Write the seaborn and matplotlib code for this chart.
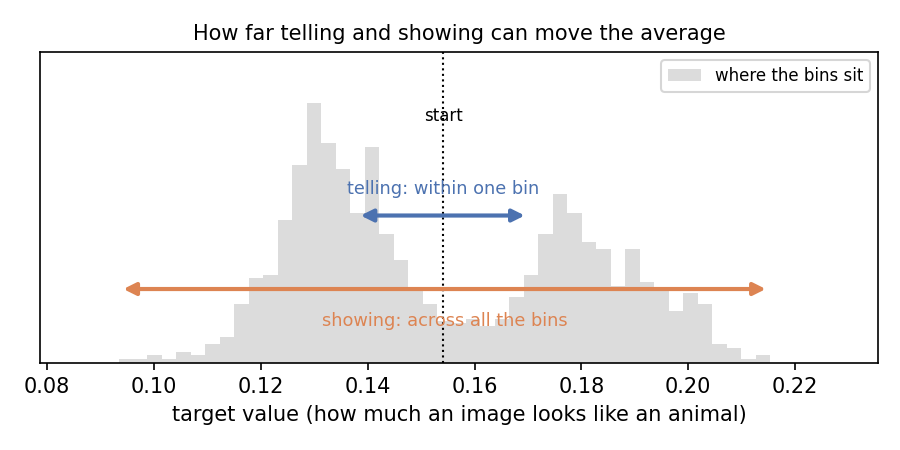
import numpy as np
import pandas as pd
import matplotlib
matplotlib.use("Agg")
import matplotlib.pyplot as plt
import seaborn as sns

# histogram: 45 equal bins between these two edges
bin_lo = 0.0934
bin_hi = 0.2153
bin_heights = [3.5, 3.5, 7.5, 3.5, 10.5, 7.5, 18.5, 25.5, 58.5, 84.5,
               87.5, 142.5, 197.5, 259.5, 219.5, 193.5, 149.5, 215.5, 128.5, 102.5,
               73.0, 58.5, 42.0, 40.0, 43.5, 36.5, 43.5, 65.5, 87.5, 128.5,
               168.5, 149.5, 120.5, 113.5, 76.5, 113.5, 80.5, 73.0, 51.5, 69.5,
               58.5, 18.5, 14.5, 3.5, 7.5]

start_value = 0.1542
telling_range = [0.1387, 0.1694]
showing_range = [0.0943, 0.2145]

edges = np.linspace(bin_lo, bin_hi, len(bin_heights) + 1)
df = pd.DataFrame({"value": (edges[:-1] + edges[1:]) / 2, "height": bin_heights})

blue = "#4C72B0"
orange = "#DD8452"

fig, ax = plt.subplots(figsize=(6, 3), dpi=150)
sns.histplot(data=df, x="value", weights="height", bins=len(bin_heights),
             binrange=(bin_lo, bin_hi), color="#dcdcdc", alpha=1,
             edgecolor="none", linewidth=0, label="where the bins sit", ax=ax)

ax.axvline(start_value, color="black", linestyle=":", linewidth=1)
ax.text(start_value, 247, "start", ha="center", va="center", fontsize=8)

ax.annotate("", xy=(telling_range[0], 147), xytext=(telling_range[1], 147),
            arrowprops=dict(arrowstyle="<|-|>", color=blue, lw=2, mutation_scale=12,
                            shrinkA=0, shrinkB=0))
ax.text(np.mean(telling_range), 174, "telling: within one bin", color=blue,
        ha="center", va="center", fontsize=8.5)

ax.annotate("", xy=(showing_range[0], 73.5), xytext=(showing_range[1], 73.5),
            arrowprops=dict(arrowstyle="<|-|>", color=orange, lw=2, mutation_scale=12,
                            shrinkA=0, shrinkB=0))
ax.text(np.mean(showing_range), 42, "showing: across all the bins", color=orange,
        ha="center", va="center", fontsize=8.5)

ax.set_xlim(0.0787, 0.2355)
ax.set_ylim(0, 310.5)
ax.set_yticks([])
ax.set_ylabel("")
ax.set_xticks([0.08, 0.10, 0.12, 0.14, 0.16, 0.18, 0.20, 0.22])
ax.set_xlabel("target value (how much an image looks like an animal)")
ax.set_title("How far telling and showing can move the average", fontsize=10)
ax.legend(loc="upper right", fontsize=8)

plt.subplots_adjust(left=0.0444, right=0.9756, top=0.8844, bottom=0.1944)
plt.savefig("out.png")
